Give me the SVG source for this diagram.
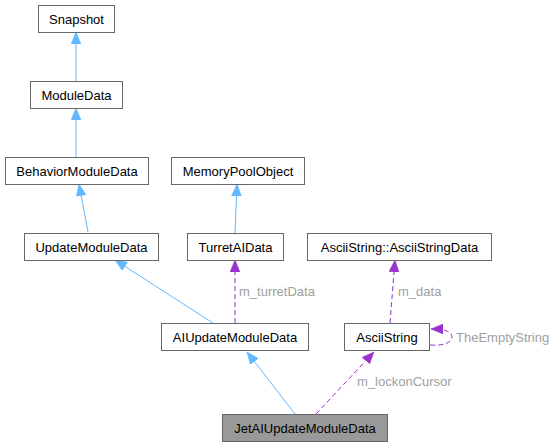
<svg xmlns="http://www.w3.org/2000/svg" width="556" height="447" viewBox="0 0 556 447">
<style>
.n rect{fill:#fff;stroke:#666;stroke-width:1}
.n text{font-family:"Liberation Sans",Arial,sans-serif;font-size:13px;fill:#000;text-anchor:middle}
.inh{stroke:#63b8ff;stroke-width:1;fill:none;marker-end:url(#ab)}
.use{stroke:#9a32cd;stroke-width:1;fill:none;stroke-dasharray:5,3;marker-end:url(#ap)}
.lbl{font-family:"Liberation Sans",Arial,sans-serif;font-size:13px;fill:#a0a0a0}
</style>
<defs>
<marker id="ab" markerUnits="userSpaceOnUse" markerWidth="13" markerHeight="11" refX="12" refY="5" orient="auto" viewBox="0 0 13 10"><path d="M0,0 L12,5 L0,10 z" fill="#63b8ff" stroke="#63b8ff" stroke-width="0.5"/></marker>
<marker id="ap" markerUnits="userSpaceOnUse" markerWidth="13" markerHeight="11" refX="12" refY="5" orient="auto" viewBox="0 0 13 10"><path d="M0,0 L12,5 L0,10 z" fill="#9a32cd" stroke="#9a32cd" stroke-width="0.5"/></marker>
</defs>
<rect width="556" height="447" fill="#fff"/>
<g id="edges">
<line class="inh" x1="76" y1="81" x2="76" y2="32"/>
<line class="inh" x1="76" y1="157" x2="76" y2="108"/>
<line class="inh" x1="88" y1="232" x2="79" y2="184"/>
<line class="inh" x1="235" y1="233" x2="237" y2="184"/>
<line class="inh" x1="213" y1="323" x2="115" y2="260"/>
<line class="use" x1="235" y1="323" x2="235" y2="260"/>
<line class="use" x1="390" y1="323" x2="395" y2="260"/>
<line class="inh" x1="295" y1="414" x2="247" y2="352"/>
<line class="use" x1="316" y1="414" x2="374" y2="352"/>
<path class="use" d="M430,345 C445,346 452,342 452,337 C452,332 446,329 431,329"/>
<text class="lbl" x="239" y="296">m_turretData</text>
<text class="lbl" x="398" y="296">m_data</text>
<text class="lbl" x="456" y="342">TheEmptyString</text>
<text class="lbl" x="357" y="386">m_lockonCursor</text>
</g>
<g id="Snapshot" class="n"><rect x="38.5" y="5.5" width="76" height="27"/><text x="76.5" y="23.5">Snapshot</text></g>
<g id="ModuleData" class="n"><rect x="30.5" y="81.5" width="92" height="27"/><text x="76.5" y="99.5">ModuleData</text></g>
<g id="BehaviorModuleData" class="n"><rect x="5.5" y="157.5" width="143" height="27"/><text x="77" y="175.5">BehaviorModuleData</text></g>
<g id="MemoryPoolObject" class="n"><rect x="171.5" y="157.5" width="133" height="27"/><text x="238" y="175.5">MemoryPoolObject</text></g>
<g id="UpdateModuleData" class="n"><rect x="24.5" y="233.5" width="134" height="27"/><text x="91.5" y="251.5">UpdateModuleData</text></g>
<g id="TurretAIData" class="n"><rect x="187.5" y="233.5" width="96" height="27"/><text x="235.5" y="251.5">TurretAIData</text></g>
<g id="AsciiStringData" class="n"><rect x="307.5" y="233.5" width="184" height="27"/><text x="399.5" y="251.5">AsciiString::AsciiStringData</text></g>
<g id="AIUpdateModuleData" class="n"><rect x="161.5" y="323.5" width="147" height="27"/><text x="235" y="341.5">AIUpdateModuleData</text></g>
<g id="AsciiString" class="n"><rect x="344.5" y="323.5" width="85" height="27"/><text x="387" y="341.5">AsciiString</text></g>
<g id="JetAIUpdateModuleData" class="n"><rect x="222.5" y="414.5" width="165" height="27" style="fill:#999"/><text x="305" y="432.5">JetAIUpdateModuleData</text></g>
</svg>
